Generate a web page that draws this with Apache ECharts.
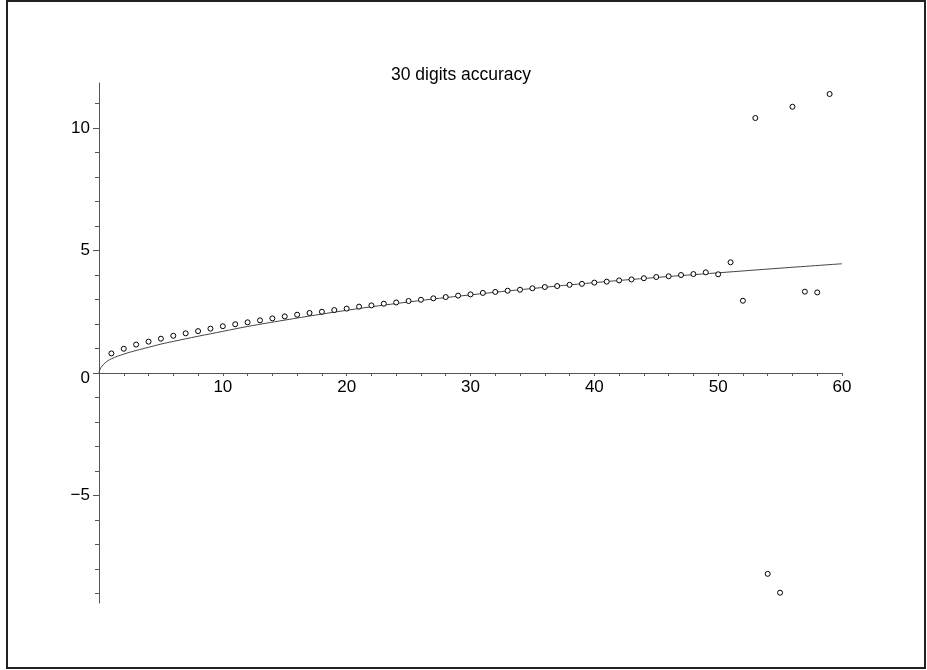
<!DOCTYPE html>
<html>
<head>
<meta charset="utf-8">
<script src="https://cdn.jsdelivr.net/npm/echarts@6/dist/echarts.min.js"></script>
<style>
html,body{margin:0;padding:0;background:#fff;}
#chart{width:927px;height:670px;}
</style>
</head>
<body>
<div id="chart"></div>
<script>
// ---- data ----
var titleText = '30 digits accuracy';
var pointN = [1,2,3,4,5,6,7,8,9,10,11,12,13,14,15,16,17,18,19,20,21,22,23,24,25,26,27,28,29,30,31,32,33,34,35,36,37,38,39,40,41,42,43,44,45,46,47,48,49,50,51,52,53,54,55,56,57,58,59];
var pointValues = [0.80,0.99,1.16,1.28,1.40,1.52,1.62,1.71,1.81,1.91,1.99,2.07,2.15,2.23,2.31,2.38,2.45,2.50,2.57,2.63,2.71,2.76,2.83,2.88,2.94,2.99,3.05,3.10,3.16,3.21,3.27,3.31,3.36,3.40,3.46,3.51,3.55,3.60,3.64,3.69,3.73,3.78,3.82,3.87,3.92,3.95,4.00,4.04,4.11,4.03,4.52,2.95,10.41,-8.20,-8.97,10.87,3.32,3.29,11.39];
var curveX = [0,0.1,0.25,0.5,1,2,3,4,5,6,8,10,12,15,20,25,30,35,40,45,50,55,60];
var curveY = [0,0.17,0.28,0.42,0.58,0.77,0.92,1.05,1.18,1.29,1.50,1.70,1.90,2.16,2.56,2.90,3.19,3.45,3.69,3.90,4.09,4.28,4.46];
var xLabelValues = [10,20,30,40,50,60];
var xTickValues = [2,4,6,8,10,12,14,16,18,20,22,24,26,28,30,32,34,36,38,40,42,44,46,48,50,52,54,56,58,60];
var yLabelValues = [-5,0,5,10];
var yMinorTickValues = [-9,-8,-7,-6,-4,-3,-2,-1,1,2,3,4,6,7,8,9,11];
var xMin = 0, xMax = 60, yMin = -9.39, yMax = 11.84;

var FONT = "'Liberation Sans', Arial, Helvetica, sans-serif";
var AXIS_COLOR = '#555';
var GRID_TOP = 83, GRID_BOTTOM = 67, CHART_H = 670;
var plotH = CHART_H - GRID_TOP - GRID_BOTTOM;
// place the x axis (line, ticks and labels) at y = 0
var xAxisOffset = -((0 - yMin) / (yMax - yMin)) * plotH;

var scatterData = pointN.map(function (n, i) { return [n, pointValues[i]]; });
var curveData = curveX.map(function (x, i) { return [x, curveY[i]]; });

var chart = echarts.init(document.getElementById('chart'), null, {renderer: 'canvas'});
chart.setOption({
  animation: false,
  backgroundColor: '#fff',
  title: {
    text: titleText,
    left: 391,
    top: 66,
    padding: 0,
    textStyle: {fontFamily: FONT, fontSize: 17.5, fontWeight: 'normal', color: '#000'}
  },
  graphic: [{
    type: 'rect',
    shape: {x: 7, y: 1, width: 918, height: 667},
    style: {fill: 'none', stroke: '#222', lineWidth: 2},
    silent: true
  }],
  grid: {left: 99, right: 85, top: GRID_TOP, bottom: GRID_BOTTOM, containLabel: false},
  xAxis: {
    type: 'value',
    position: 'bottom',
    offset: xAxisOffset,
    min: xMin,
    max: xMax,
    axisLine: {show: true, onZero: false, lineStyle: {color: AXIS_COLOR, width: 1}},
    axisTick: {show: true, length: 3, customValues: xTickValues, lineStyle: {color: AXIS_COLOR}},
    axisLabel: {customValues: xLabelValues, margin: 6, fontFamily: FONT, fontSize: 17, color: '#000'},
    splitLine: {show: false}
  },
  yAxis: [{
    type: 'value',
    position: 'left',
    min: yMin,
    max: yMax,
    axisLine: {show: true, onZero: false, lineStyle: {color: AXIS_COLOR, width: 1}},
    axisTick: {show: true, length: 6, customValues: yLabelValues, lineStyle: {color: AXIS_COLOR}},
    axisLabel: {
      customValues: yLabelValues,
      margin: 9,
      fontFamily: FONT, fontSize: 17, color: '#000',
      formatter: function (v) { return v === 0 ? '{z|0}' : (v < 0 ? '\u2212' + Math.abs(v) : String(v)); },
      rich: {z: {fontFamily: FONT, fontSize: 17, color: '#000', padding: [10, 0, 0, 0]}}
    },
    splitLine: {show: false}
  }, {
    type: 'value',
    position: 'left',
    offset: 0,
    min: yMin,
    max: yMax,
    axisLine: {show: false, onZero: false},
    axisTick: {show: true, length: 4, customValues: yMinorTickValues, lineStyle: {color: AXIS_COLOR}},
    axisLabel: {show: false},
    splitLine: {show: false}
  }],
  series: [{
    type: 'line',
    data: curveData,
    showSymbol: false,
    smooth: 0.4,
    lineStyle: {color: '#444', width: 1},
    silent: true,
    z: 2
  }, {
    type: 'scatter',
    data: scatterData,
    symbol: 'circle',
    symbolSize: 5,
    itemStyle: {color: '#fff', borderColor: '#000', borderWidth: 1, opacity: 1},
    silent: true,
    z: 3
  }]
});
</script>
</body>
</html>
